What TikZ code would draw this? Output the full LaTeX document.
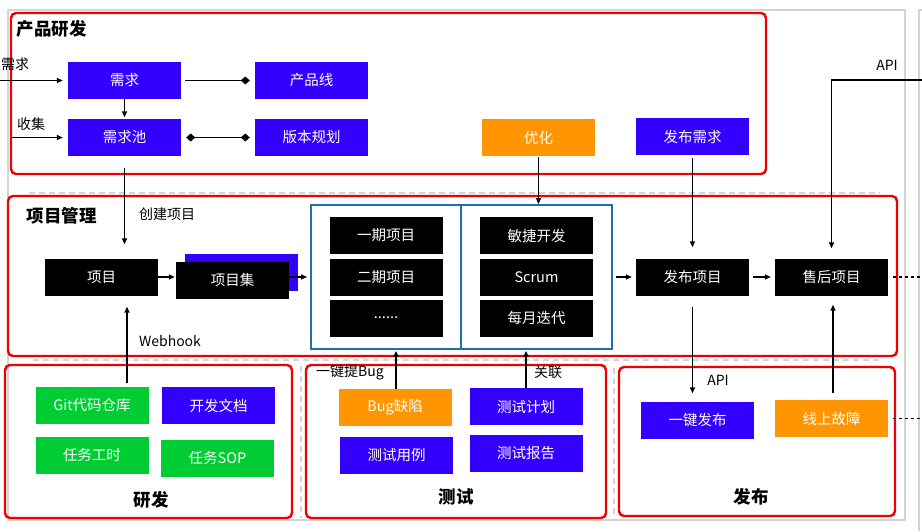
\documentclass[tikz,border=0pt]{standalone}
\usepackage{fontspec}
\setmainfont{Noto Sans CJK SC}
\usetikzlibrary{arrows.meta}
\definecolor{boxblue}{RGB}{51,0,255}
\definecolor{boxorange}{RGB}{255,149,0}
\definecolor{boxgreen}{RGB}{0,204,51}
\definecolor{framered}{RGB}{238,0,0}
\definecolor{frameblue}{RGB}{31,112,170}
\definecolor{panelgray}{RGB}{212,212,212}

\begin{document}
\begin{tikzpicture}[x=1pt,y=-1pt,
  box/.style={minimum width=113pt,minimum height=37pt,inner sep=0pt,text=white,font=\fontsize{14.5}{16}\selectfont},
  bluebox/.style={box,fill=boxblue},
  blackbox/.style={box,fill=black},
  orangebox/.style={box,fill=boxorange},
  greenbox/.style={box,fill=boxgreen},
  stage/.style={draw=frameblue,line width=1.8pt,minimum height=144pt,inner sep=0pt},
  group/.style={draw=framered,line width=2.4pt,rounded corners=5pt},
  sep/.style={draw=panelgray,line width=1.8pt,dash pattern=on 6pt off 4pt},
  arr/.style={-{Triangle[length=6pt,width=5pt]},line width=1.4pt},
  link/.style={line width=1.4pt,dash pattern=on 3pt off 3pt},
  lbl/.style={font=\fontsize{14}{16}\selectfont},
  title/.style={font=\fontsize{17.5}{20}\selectfont\bfseries}]
\useasboundingbox (0,0) rectangle (922,531);

% panels and separators
\draw[panelgray,line width=1.2pt] (8,10) rectangle (905,520);
\draw[panelgray,line width=1.2pt] (919,531) -- (919,10) -- (922,10);
\draw[sep] (29,193) -- (880,193);
\draw[sep] (33,360) -- (882,360);
\draw[sep] (301,366) -- (301,518);
\draw[sep] (614,368) -- (614,518);

% groups
\draw[group] (11,13) rectangle (766,174);
\draw[group] (8,196) rectangle (897,356);
\draw[group] (5,365) rectangle (292,518);
\draw[group] (306,365) rectangle (606,518);
\draw[group] (619,367) rectangle (895,516);
\node[title,anchor=west] (tcpyf) at (13,29) {产品研发};
\node[title,anchor=west] (txmgl) at (23,216) {项目管理};
\node[title] (tyf) at (151,500) {研发};
\node[title] (tcs) at (456,497) {测试};
\node[title] (tfb) at (751,497) {发布};

% 产品研发
\node[bluebox] (xuqiu) at (124.5,80.5) {需求};
\node[bluebox] (xqchi) at (124.5,137.5) {需求池};
\node[bluebox] (cpx) at (311.5,80.5) {产品线};
\node[bluebox] (bbgh) at (311.5,137.5) {版本规划};
\node[orangebox] (youhua) at (538.5,137.5) {优化};
\node[bluebox] (fbxq) at (692.5,136.5) {发布需求};

% 项目管理
\node[blackbox] (xiangmu) at (101.5,277) {项目};
\node[box,fill=boxblue] (xmjbg) at (241.5,272.5) {};
\node[blackbox] (xmj) at (232.5,280) {项目集};
\node[stage,minimum width=150pt] (stageL) at (386,277) {};
\node[stage,minimum width=151pt] (stageR) at (536.5,277) {};
\node[blackbox] (yiqi) at (386,235.5) {一期项目};
\node[blackbox] (erqi) at (386,277) {二期项目};
\node[blackbox] (more) at (386,318) {......};
\node[blackbox] (minjie) at (536.5,235.5) {敏捷开发};
\node[blackbox] (scrum) at (536.5,277) {Scrum};
\node[blackbox] (meiyue) at (536.5,318) {每月迭代};
\node[blackbox] (fbxm) at (692.5,277) {发布项目};
\node[blackbox] (shxm) at (831.5,277) {售后项目};

% 研发, 测试, 发布
\node[greenbox] (git) at (92,405.5) {Git代码仓库};
\node[bluebox] (kfwd) at (218.5,405.5) {开发文档};
\node[greenbox] (rwgs) at (92,455) {任务工时};
\node[greenbox] (rwsop) at (217.5,458) {任务SOP};
\node[orangebox] (bug) at (395,407.5) {Bug缺陷};
\node[bluebox] (csyl) at (396.5,455) {测试用例};
\node[bluebox] (csjh) at (526,406.5) {测试计划};
\node[bluebox] (csbg) at (526,453.5) {测试报告};
\node[bluebox] (yjfb) at (697.5,420) {一键发布};
\node[orangebox] (xsgz) at (831.5,418.5) {线上故障};

% outside ends
\coordinate (inxq) at (-2,80.5);
\coordinate (insj) at (12,137.5);
\coordinate (apiin) at (922,80);
\coordinate (outsh) at (922,277);
\coordinate (outgz) at (922,418.5);

% connectors
\draw[arr,shorten >=5pt] (inxq) -- (xuqiu.west);
\node[lbl,anchor=west,inner sep=1pt] (lxq) at (0,64) {需求};
\draw[arr,shorten >=5pt] (insj) -- (xqchi.west);
\node[lbl] (lsj) at (31,124) {收集};
\draw[arr,shorten >=1.5pt] (xuqiu.south) -- (xqchi.north);
\draw[line width=1.4pt,-{Diamond[length=9pt,width=8pt]},shorten <=4pt,shorten >=5pt] (xuqiu.east) -- (cpx.west);
\draw[line width=1.4pt,{Diamond[length=9pt,width=8pt]}-{Diamond[length=9pt,width=8pt]},shorten <=5pt,shorten >=5pt] (xqchi.east) -- (bbgh.west);
\draw[arr,shorten <=12pt,shorten >=14pt] (xqchi.south) -- (xqchi.south |- xiangmu.north);
\node[lbl] (lcj) at (167,214) {创建项目};
\draw[arr,shorten >=1pt] (xiangmu.east) -- (xiangmu.east -| xmj.west);
\draw[arr,shorten >=3pt] (xmj.east |- stageL.west) -- (stageL.west);
\draw[arr,shorten <=3pt,shorten >=4pt] (stageR.east) -- (fbxm.west);
\draw[arr,shorten <=4pt,shorten >=4pt] (fbxm.east) -- (shxm.west);
\draw[link,shorten <=5pt] (shxm.east) -- (outsh);
\draw[link,shorten <=5pt] (xsgz.east) -- (outgz);
\draw[arr,shorten <=1pt] (youhua.south) -- (youhua.south |- stageR.north);
\draw[arr,shorten <=3pt,shorten >=11pt] (fbxq.south) -- (fbxq.south |- fbxm.north);
\draw[arr,shorten >=10pt] (apiin) -| (shxm.north);
\node[lbl] (lapi) at (887,65) {API};
\draw[arr,shorten <=11pt,shorten >=8pt] (fbxm.south) -- (fbxm.south |- yjfb.north);
\node[lbl] (lapi2) at (718,380) {API};
\draw[arr,shorten <=7pt,shorten >=9pt] ([xshift=1.5pt]xsgz.north) -- ([xshift=1.5pt]shxm.south);
\draw[arr,shorten <=4pt,shorten >=11pt] ([xshift=35pt]git.north) -- ([xshift=35pt]git.north |- xiangmu.south);
\node[lbl] (lwh) at (170,341) {Webhook};
\draw[arr,shorten >=1pt] ([xshift=1pt]bug.north) -- ([xshift=1pt]bug.north |- stageL.south);
\node[lbl] (lbug) at (350,372) {一键提Bug};
\draw[arr,shorten >=1pt] (csjh.north) -- (csjh.north |- stageR.south);
\node[lbl] (lgl) at (548,372) {关联};
\end{tikzpicture}
\end{document}
